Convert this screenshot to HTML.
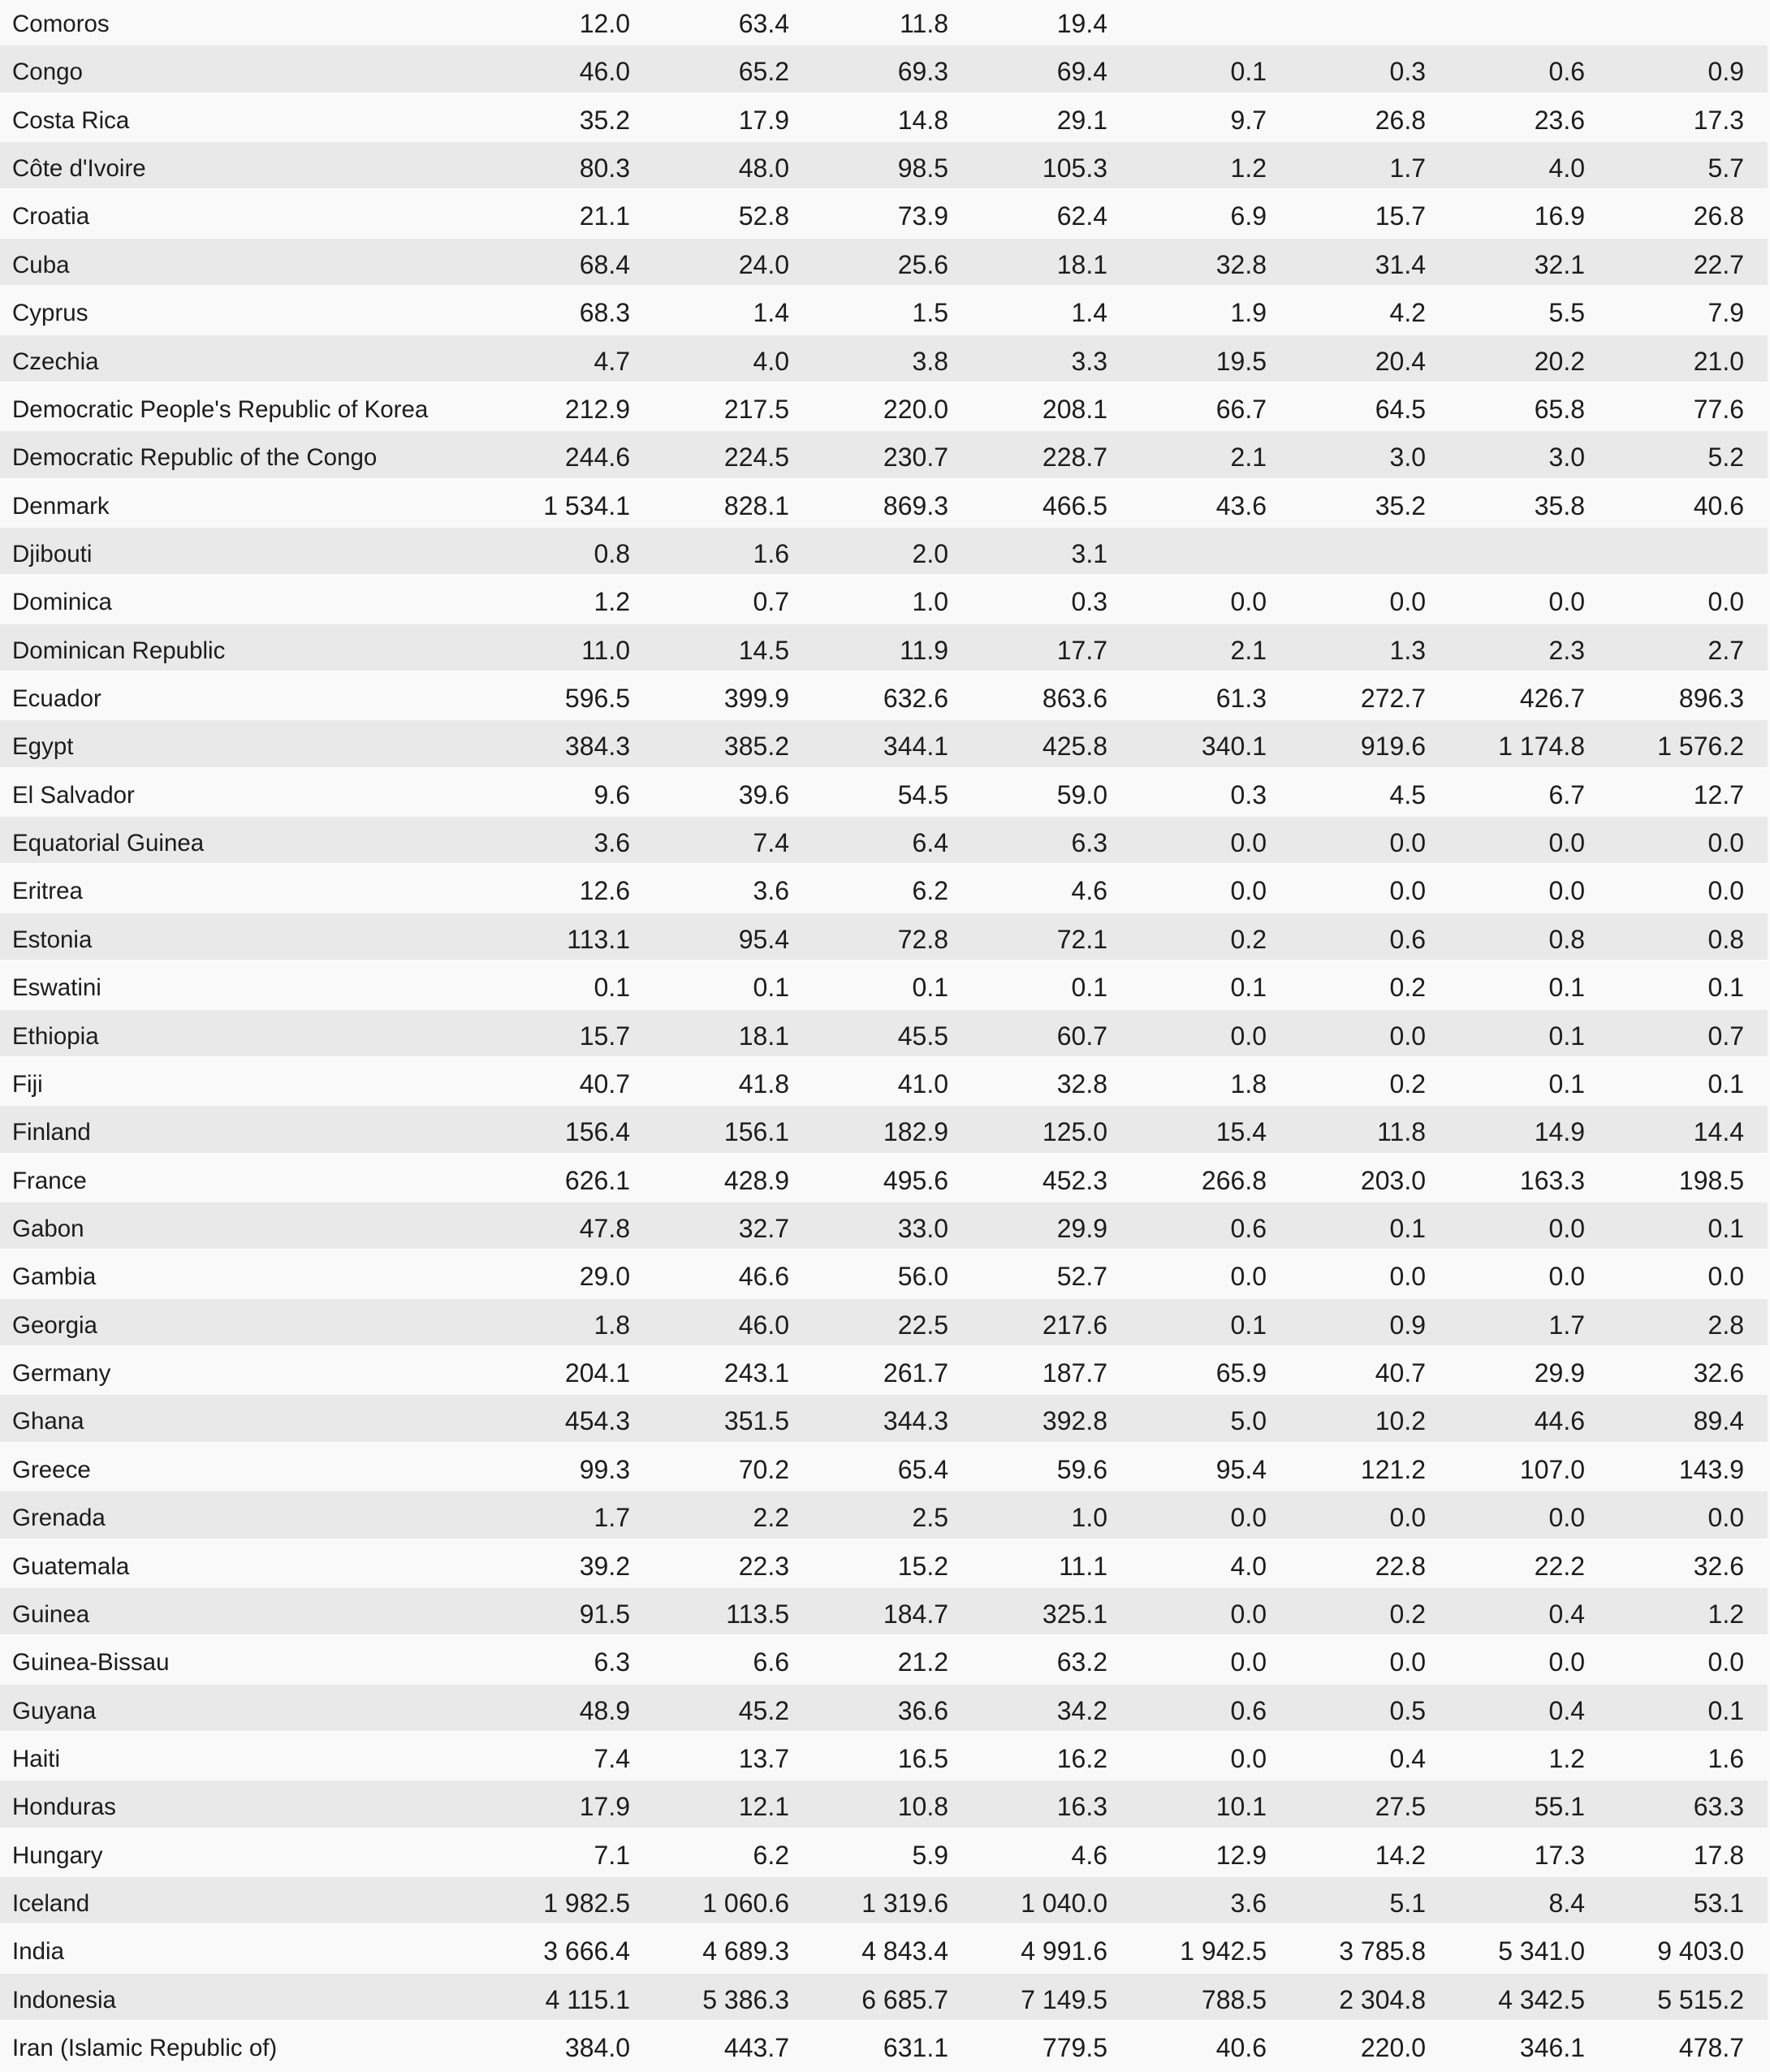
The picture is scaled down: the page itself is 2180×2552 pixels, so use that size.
<!DOCTYPE html>
<html>
<head>
<meta charset="utf-8">
<style>
html,body{margin:0;padding:0;}
body{width:2180px;height:2552px;background:#f9f9f9;overflow:hidden;position:relative;font-family:"Liberation Sans",Arial,sans-serif;color:#1c1c1c;}
#t{position:absolute;left:0;top:-3px;width:2177px;}
.r{position:relative;height:59.37px;line-height:59.37px;white-space:nowrap;}
.r:nth-child(even){background:#e9e9e9;}
.r:nth-child(even)::after{content:"";position:absolute;left:0;right:0;bottom:0;height:2px;background:#fcfcfc;}
.r span{position:absolute;top:3px;}
.n{left:15px;font-size:29.5px;}
.c{font-size:32px;text-align:right;}
.c1{right:1401px}.c2{right:1205px}.c3{right:1009px}.c4{right:813px}
.c5{right:617px}.c6{right:421px}.c7{right:225px}.c8{right:29px}
</style>
</head>
<body>
<div id="t">
<div class="r"><span class="n">Comoros</span><span class="c c1">12.0</span><span class="c c2">63.4</span><span class="c c3">11.8</span><span class="c c4">19.4</span></div>
<div class="r"><span class="n">Congo</span><span class="c c1">46.0</span><span class="c c2">65.2</span><span class="c c3">69.3</span><span class="c c4">69.4</span><span class="c c5">0.1</span><span class="c c6">0.3</span><span class="c c7">0.6</span><span class="c c8">0.9</span></div>
<div class="r"><span class="n">Costa Rica</span><span class="c c1">35.2</span><span class="c c2">17.9</span><span class="c c3">14.8</span><span class="c c4">29.1</span><span class="c c5">9.7</span><span class="c c6">26.8</span><span class="c c7">23.6</span><span class="c c8">17.3</span></div>
<div class="r"><span class="n">Côte d'Ivoire</span><span class="c c1">80.3</span><span class="c c2">48.0</span><span class="c c3">98.5</span><span class="c c4">105.3</span><span class="c c5">1.2</span><span class="c c6">1.7</span><span class="c c7">4.0</span><span class="c c8">5.7</span></div>
<div class="r"><span class="n">Croatia</span><span class="c c1">21.1</span><span class="c c2">52.8</span><span class="c c3">73.9</span><span class="c c4">62.4</span><span class="c c5">6.9</span><span class="c c6">15.7</span><span class="c c7">16.9</span><span class="c c8">26.8</span></div>
<div class="r"><span class="n">Cuba</span><span class="c c1">68.4</span><span class="c c2">24.0</span><span class="c c3">25.6</span><span class="c c4">18.1</span><span class="c c5">32.8</span><span class="c c6">31.4</span><span class="c c7">32.1</span><span class="c c8">22.7</span></div>
<div class="r"><span class="n">Cyprus</span><span class="c c1">68.3</span><span class="c c2">1.4</span><span class="c c3">1.5</span><span class="c c4">1.4</span><span class="c c5">1.9</span><span class="c c6">4.2</span><span class="c c7">5.5</span><span class="c c8">7.9</span></div>
<div class="r"><span class="n">Czechia</span><span class="c c1">4.7</span><span class="c c2">4.0</span><span class="c c3">3.8</span><span class="c c4">3.3</span><span class="c c5">19.5</span><span class="c c6">20.4</span><span class="c c7">20.2</span><span class="c c8">21.0</span></div>
<div class="r"><span class="n">Democratic People's Republic of Korea</span><span class="c c1">212.9</span><span class="c c2">217.5</span><span class="c c3">220.0</span><span class="c c4">208.1</span><span class="c c5">66.7</span><span class="c c6">64.5</span><span class="c c7">65.8</span><span class="c c8">77.6</span></div>
<div class="r"><span class="n">Democratic Republic of the Congo</span><span class="c c1">244.6</span><span class="c c2">224.5</span><span class="c c3">230.7</span><span class="c c4">228.7</span><span class="c c5">2.1</span><span class="c c6">3.0</span><span class="c c7">3.0</span><span class="c c8">5.2</span></div>
<div class="r"><span class="n">Denmark</span><span class="c c1">1 534.1</span><span class="c c2">828.1</span><span class="c c3">869.3</span><span class="c c4">466.5</span><span class="c c5">43.6</span><span class="c c6">35.2</span><span class="c c7">35.8</span><span class="c c8">40.6</span></div>
<div class="r"><span class="n">Djibouti</span><span class="c c1">0.8</span><span class="c c2">1.6</span><span class="c c3">2.0</span><span class="c c4">3.1</span></div>
<div class="r"><span class="n">Dominica</span><span class="c c1">1.2</span><span class="c c2">0.7</span><span class="c c3">1.0</span><span class="c c4">0.3</span><span class="c c5">0.0</span><span class="c c6">0.0</span><span class="c c7">0.0</span><span class="c c8">0.0</span></div>
<div class="r"><span class="n">Dominican Republic</span><span class="c c1">11.0</span><span class="c c2">14.5</span><span class="c c3">11.9</span><span class="c c4">17.7</span><span class="c c5">2.1</span><span class="c c6">1.3</span><span class="c c7">2.3</span><span class="c c8">2.7</span></div>
<div class="r"><span class="n">Ecuador</span><span class="c c1">596.5</span><span class="c c2">399.9</span><span class="c c3">632.6</span><span class="c c4">863.6</span><span class="c c5">61.3</span><span class="c c6">272.7</span><span class="c c7">426.7</span><span class="c c8">896.3</span></div>
<div class="r"><span class="n">Egypt</span><span class="c c1">384.3</span><span class="c c2">385.2</span><span class="c c3">344.1</span><span class="c c4">425.8</span><span class="c c5">340.1</span><span class="c c6">919.6</span><span class="c c7">1 174.8</span><span class="c c8">1 576.2</span></div>
<div class="r"><span class="n">El Salvador</span><span class="c c1">9.6</span><span class="c c2">39.6</span><span class="c c3">54.5</span><span class="c c4">59.0</span><span class="c c5">0.3</span><span class="c c6">4.5</span><span class="c c7">6.7</span><span class="c c8">12.7</span></div>
<div class="r"><span class="n">Equatorial Guinea</span><span class="c c1">3.6</span><span class="c c2">7.4</span><span class="c c3">6.4</span><span class="c c4">6.3</span><span class="c c5">0.0</span><span class="c c6">0.0</span><span class="c c7">0.0</span><span class="c c8">0.0</span></div>
<div class="r"><span class="n">Eritrea</span><span class="c c1">12.6</span><span class="c c2">3.6</span><span class="c c3">6.2</span><span class="c c4">4.6</span><span class="c c5">0.0</span><span class="c c6">0.0</span><span class="c c7">0.0</span><span class="c c8">0.0</span></div>
<div class="r"><span class="n">Estonia</span><span class="c c1">113.1</span><span class="c c2">95.4</span><span class="c c3">72.8</span><span class="c c4">72.1</span><span class="c c5">0.2</span><span class="c c6">0.6</span><span class="c c7">0.8</span><span class="c c8">0.8</span></div>
<div class="r"><span class="n">Eswatini</span><span class="c c1">0.1</span><span class="c c2">0.1</span><span class="c c3">0.1</span><span class="c c4">0.1</span><span class="c c5">0.1</span><span class="c c6">0.2</span><span class="c c7">0.1</span><span class="c c8">0.1</span></div>
<div class="r"><span class="n">Ethiopia</span><span class="c c1">15.7</span><span class="c c2">18.1</span><span class="c c3">45.5</span><span class="c c4">60.7</span><span class="c c5">0.0</span><span class="c c6">0.0</span><span class="c c7">0.1</span><span class="c c8">0.7</span></div>
<div class="r"><span class="n">Fiji</span><span class="c c1">40.7</span><span class="c c2">41.8</span><span class="c c3">41.0</span><span class="c c4">32.8</span><span class="c c5">1.8</span><span class="c c6">0.2</span><span class="c c7">0.1</span><span class="c c8">0.1</span></div>
<div class="r"><span class="n">Finland</span><span class="c c1">156.4</span><span class="c c2">156.1</span><span class="c c3">182.9</span><span class="c c4">125.0</span><span class="c c5">15.4</span><span class="c c6">11.8</span><span class="c c7">14.9</span><span class="c c8">14.4</span></div>
<div class="r"><span class="n">France</span><span class="c c1">626.1</span><span class="c c2">428.9</span><span class="c c3">495.6</span><span class="c c4">452.3</span><span class="c c5">266.8</span><span class="c c6">203.0</span><span class="c c7">163.3</span><span class="c c8">198.5</span></div>
<div class="r"><span class="n">Gabon</span><span class="c c1">47.8</span><span class="c c2">32.7</span><span class="c c3">33.0</span><span class="c c4">29.9</span><span class="c c5">0.6</span><span class="c c6">0.1</span><span class="c c7">0.0</span><span class="c c8">0.1</span></div>
<div class="r"><span class="n">Gambia</span><span class="c c1">29.0</span><span class="c c2">46.6</span><span class="c c3">56.0</span><span class="c c4">52.7</span><span class="c c5">0.0</span><span class="c c6">0.0</span><span class="c c7">0.0</span><span class="c c8">0.0</span></div>
<div class="r"><span class="n">Georgia</span><span class="c c1">1.8</span><span class="c c2">46.0</span><span class="c c3">22.5</span><span class="c c4">217.6</span><span class="c c5">0.1</span><span class="c c6">0.9</span><span class="c c7">1.7</span><span class="c c8">2.8</span></div>
<div class="r"><span class="n">Germany</span><span class="c c1">204.1</span><span class="c c2">243.1</span><span class="c c3">261.7</span><span class="c c4">187.7</span><span class="c c5">65.9</span><span class="c c6">40.7</span><span class="c c7">29.9</span><span class="c c8">32.6</span></div>
<div class="r"><span class="n">Ghana</span><span class="c c1">454.3</span><span class="c c2">351.5</span><span class="c c3">344.3</span><span class="c c4">392.8</span><span class="c c5">5.0</span><span class="c c6">10.2</span><span class="c c7">44.6</span><span class="c c8">89.4</span></div>
<div class="r"><span class="n">Greece</span><span class="c c1">99.3</span><span class="c c2">70.2</span><span class="c c3">65.4</span><span class="c c4">59.6</span><span class="c c5">95.4</span><span class="c c6">121.2</span><span class="c c7">107.0</span><span class="c c8">143.9</span></div>
<div class="r"><span class="n">Grenada</span><span class="c c1">1.7</span><span class="c c2">2.2</span><span class="c c3">2.5</span><span class="c c4">1.0</span><span class="c c5">0.0</span><span class="c c6">0.0</span><span class="c c7">0.0</span><span class="c c8">0.0</span></div>
<div class="r"><span class="n">Guatemala</span><span class="c c1">39.2</span><span class="c c2">22.3</span><span class="c c3">15.2</span><span class="c c4">11.1</span><span class="c c5">4.0</span><span class="c c6">22.8</span><span class="c c7">22.2</span><span class="c c8">32.6</span></div>
<div class="r"><span class="n">Guinea</span><span class="c c1">91.5</span><span class="c c2">113.5</span><span class="c c3">184.7</span><span class="c c4">325.1</span><span class="c c5">0.0</span><span class="c c6">0.2</span><span class="c c7">0.4</span><span class="c c8">1.2</span></div>
<div class="r"><span class="n">Guinea-Bissau</span><span class="c c1">6.3</span><span class="c c2">6.6</span><span class="c c3">21.2</span><span class="c c4">63.2</span><span class="c c5">0.0</span><span class="c c6">0.0</span><span class="c c7">0.0</span><span class="c c8">0.0</span></div>
<div class="r"><span class="n">Guyana</span><span class="c c1">48.9</span><span class="c c2">45.2</span><span class="c c3">36.6</span><span class="c c4">34.2</span><span class="c c5">0.6</span><span class="c c6">0.5</span><span class="c c7">0.4</span><span class="c c8">0.1</span></div>
<div class="r"><span class="n">Haiti</span><span class="c c1">7.4</span><span class="c c2">13.7</span><span class="c c3">16.5</span><span class="c c4">16.2</span><span class="c c5">0.0</span><span class="c c6">0.4</span><span class="c c7">1.2</span><span class="c c8">1.6</span></div>
<div class="r"><span class="n">Honduras</span><span class="c c1">17.9</span><span class="c c2">12.1</span><span class="c c3">10.8</span><span class="c c4">16.3</span><span class="c c5">10.1</span><span class="c c6">27.5</span><span class="c c7">55.1</span><span class="c c8">63.3</span></div>
<div class="r"><span class="n">Hungary</span><span class="c c1">7.1</span><span class="c c2">6.2</span><span class="c c3">5.9</span><span class="c c4">4.6</span><span class="c c5">12.9</span><span class="c c6">14.2</span><span class="c c7">17.3</span><span class="c c8">17.8</span></div>
<div class="r"><span class="n">Iceland</span><span class="c c1">1 982.5</span><span class="c c2">1 060.6</span><span class="c c3">1 319.6</span><span class="c c4">1 040.0</span><span class="c c5">3.6</span><span class="c c6">5.1</span><span class="c c7">8.4</span><span class="c c8">53.1</span></div>
<div class="r"><span class="n">India</span><span class="c c1">3 666.4</span><span class="c c2">4 689.3</span><span class="c c3">4 843.4</span><span class="c c4">4 991.6</span><span class="c c5">1 942.5</span><span class="c c6">3 785.8</span><span class="c c7">5 341.0</span><span class="c c8">9 403.0</span></div>
<div class="r"><span class="n">Indonesia</span><span class="c c1">4 115.1</span><span class="c c2">5 386.3</span><span class="c c3">6 685.7</span><span class="c c4">7 149.5</span><span class="c c5">788.5</span><span class="c c6">2 304.8</span><span class="c c7">4 342.5</span><span class="c c8">5 515.2</span></div>
<div class="r"><span class="n">Iran (Islamic Republic of)</span><span class="c c1">384.0</span><span class="c c2">443.7</span><span class="c c3">631.1</span><span class="c c4">779.5</span><span class="c c5">40.6</span><span class="c c6">220.0</span><span class="c c7">346.1</span><span class="c c8">478.7</span></div>
</div>
</body>
</html>
